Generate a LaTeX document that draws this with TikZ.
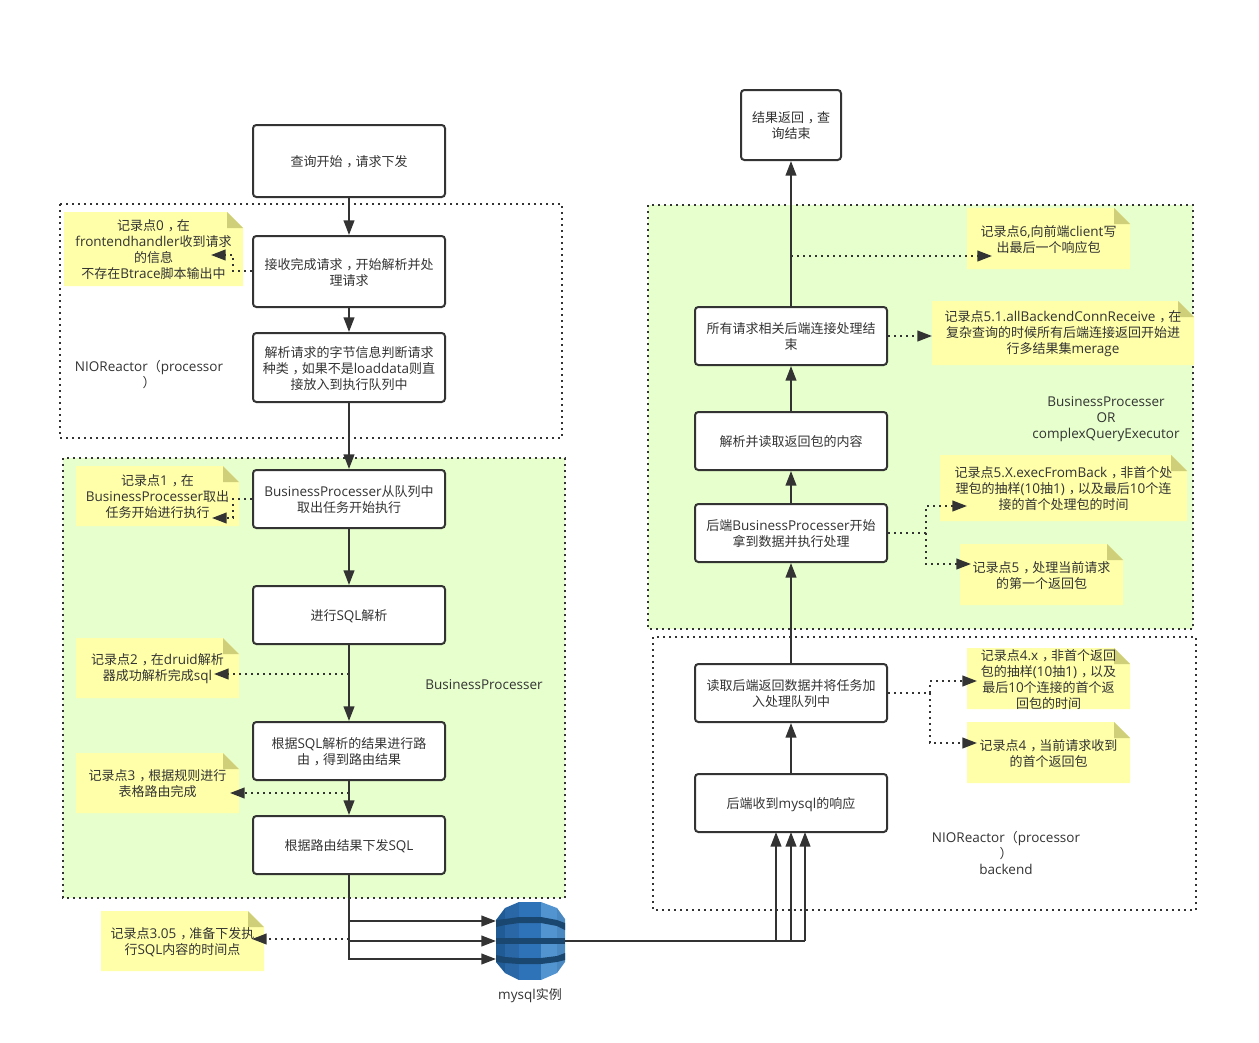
\documentclass[tikz,border=0pt]{standalone}
\usepackage{fontspec}
\setmainfont{Noto Sans CJK SC}
\newfontfamily\latfont[Scale=1.04]{Open Sans}
\usetikzlibrary{arrows.meta}
\XeTeXinterchartokenstate=1
\newXeTeXintercharclass\latclass
\newXeTeXintercharclass\commaclass
\newcount\chcnt
\chcnt=33
\loop\ifnum\chcnt<127
  \XeTeXcharclass\chcnt=\latclass
  \advance\chcnt by 1
\repeat
\XeTeXcharclass`，=\commaclass
\XeTeXinterchartoks 0 \latclass={\begingroup\latfont}
\XeTeXinterchartoks 4095 \latclass={\begingroup\latfont}
\XeTeXinterchartoks \latclass 0={\endgroup}
\XeTeXinterchartoks \latclass 4095={\endgroup}
\XeTeXinterchartoks 0 \commaclass={\kern.3em}
\XeTeXinterchartoks \commaclass 0={\kern-.3em}
\XeTeXinterchartoks \latclass \commaclass={\endgroup\kern.3em}
\XeTeXinterchartoks \commaclass \latclass={\kern-.3em\begingroup\latfont}
\definecolor{ink}{HTML}{333333}
\definecolor{groupgreen}{HTML}{E6FFCC}
\definecolor{noteyellow}{HTML}{FFFFAA}
\definecolor{notefold}{HTML}{CFCF7A}
\definecolor{bandblue}{HTML}{1A476F}
\definecolor{dbA}{HTML}{205B96}
\definecolor{dbB}{HTML}{2A67A6}
\definecolor{dbC}{HTML}{2E73B8}
\definecolor{dbD}{HTML}{5294CF}
\definecolor{dbE}{HTML}{4A88C2}
\tikzset{
  flowbox/.style={draw=ink,fill=white,line width=1.5pt,rounded corners=2.5pt,align=center,text=ink,inner sep=0pt,font=\fontsize{9.75}{12}\selectfont},
  label/.style={align=center,text=ink,inner sep=0pt,font=\fontsize{9.75}{12}\selectfont},
  grp/.style={draw=ink,line width=1.5pt,dash pattern=on 1.5pt off 3pt},
  solidarrow/.style={draw=ink,line width=1.5pt,-{Triangle[length=11pt,width=8pt]}},
  dotarrow/.style={draw=ink,line width=1.5pt,dash pattern=on 1.5pt off 3pt,-{Triangle[length=11pt,width=8pt]}},
  plainline/.style={draw=ink,line width=1.5pt},
}
\newcommand{\stickynote}[6]{%
  \fill[noteyellow] (#2,#3) -- ({#4-16},#3) -- (#4,{#3+16}) -- (#4,#5) -- (#2,#5) -- cycle;
  \fill[notefold] ({#4-16},#3) -- (#4,{#3+16}) -- ({#4-16},{#3+16}) -- cycle;
  \node[label] (#1) at ({(#2+#4)/2},{(#3+#5)/2+1}) {#6};
}
\newcommand{\flowat}[6]{%
  \node[flowbox,minimum width={(#4-#2)*0.75pt},minimum height={(#5-#3)*0.75pt},text depth=-0.75pt] (#1) at ({(#2+#4)/2},{(#3+#5)/2}) {#6};
}
\begin{document}
\begin{tikzpicture}[x=0.75pt,y=-0.75pt]
\useasboundingbox (0,0) rectangle (1259,1042);
% groups
\draw[grp] (60,204) rectangle (562,438);
\draw[grp,fill=groupgreen] (63,458) rectangle (565,898);
\draw[grp,fill=groupgreen] (648,205) rectangle (1193,629);
\draw[grp] (653,637) rectangle (1196,910);
% notes
\stickynote{n0}{64}{212}{243}{286}{记录点0，在\\frontendhandler收到请求\\的信息\\不存在Btrace脚本输出中}
\stickynote{n1}{76}{466}{239}{526}{记录点1，在\\BusinessProcesser取出\\任务开始进行执行}
\stickynote{n2}{76}{638}{239}{698}{记录点2，在druid解析\\器成功解析完成sql}
\stickynote{n3}{76}{753}{239}{813}{记录点3，根据规则进行\\表格路由完成}
\stickynote{n305}{101}{911}{264}{971}{记录点3.05，准备下发执\\行SQL内容的时间点}
\stickynote{n6}{967}{208}{1130}{269}{记录点6,向前端client写\\出最后一个响应包}
\stickynote{n51}{932}{301}{1194}{365}{记录点5.1.allBackendConnReceive，在\\复杂查询的时候所有后端连接返回开始进\\行多结果集merage}
\stickynote{n5x}{940}{455}{1187}{521}{记录点5.X.execFromBack，非首个处\\理包的抽样(10抽1)，以及最后10个连\\接的首个处理包的时间}
\stickynote{n5}{960}{544}{1123}{605}{记录点5，处理当前请求\\的第一个返回包}
\stickynote{n4x}{967}{648}{1130}{709}{记录点4.x，非首个返回\\包的抽样(10抽1)，以及\\最后10个连接的首个返\\回包的时间}
\stickynote{n4}{967}{722}{1130}{783}{记录点4，当前请求收到\\的首个返回包}
% boxes
\flowat{start}{253}{125}{445}{197}{查询开始，请求下发}
\flowat{recv}{253}{236}{445}{307}{接收完成请求，开始解析并处\\理请求}
\flowat{parse}{253}{333}{445}{402}{解析请求的字节信息判断请求\\种类，如果不是loaddata则直\\接放入到执行队列中}
\flowat{bp}{253}{470}{445}{528}{BusinessProcesser从队列中\\取出任务开始执行}
\flowat{sql}{253}{586}{445}{644}{进行SQL解析}
\flowat{route}{253}{722}{445}{780}{根据SQL解析的结果进行路\\由，得到路由结果}
\flowat{send}{253}{816}{445}{874}{根据路由结果下发SQL}
\flowat{result}{741}{90}{841}{160}{结果返回，查\\询结束}
\flowat{allend}{695}{307}{887}{365}{所有请求相关后端连接处理结\\束}
\flowat{readpk}{695}{412}{887}{470}{解析并读取返回包的内容}
\flowat{backbp}{695}{504}{887}{562}{后端BusinessProcesser开始\\拿到数据并执行处理}
\flowat{readbk}{695}{664}{887}{722}{读取后端返回数据并将任务加\\入处理队列中}
\flowat{recvdb}{695}{774}{887}{832}{后端收到mysql的响应}
% free labels
\node[label] (lnio) at (149,375) {NIOReactor（processor\\）};
\node[label] (lbp) at (484,685) {BusinessProcesser};
\node[label] (lor) at (1106,419) {BusinessProcesser\\OR\\complexQueryExecutor};
\node[label] (lnb) at (1006,853) {NIOReactor（processor\\）\\backend};
\node[label] (ldb) at (530,996) {mysql实例};
% database icon
\fill[dbA] (496,920) -- (505,908) -- (505,973) -- (496,962) -- cycle;
\fill[dbB] (505,908) -- (519,902) -- (519,980) -- (505,973) -- cycle;
\fill[dbC] (519,902) -- (541,902) -- (541,980) -- (519,980) -- cycle;
\fill[dbD] (541,902) -- (557,908) -- (557,973) -- (541,980) -- cycle;
\fill[dbE] (557,908) -- (565,919) -- (565,962) -- (557,973) -- cycle;
\fill[bandblue] (496,920) -- (505,919) -- (519,917) -- (541,917) -- (557,920) -- (565,923) -- (565,930) -- (557,926) -- (541,923) -- (519,923) -- (505,925) -- (496,927) -- cycle;
\fill[bandblue] (496,938) -- (565,938) -- (565,944) -- (496,944) -- cycle;
\fill[bandblue] (496,955) -- (505,957) -- (519,958) -- (541,958) -- (557,956) -- (565,953) -- (565,960) -- (557,962) -- (541,964) -- (519,964) -- (505,963) -- (496,962) -- cycle;
\coordinate (db) at (530,941);
% junction coordinates
\coordinate (a0) at (233,271);   \coordinate (a0b) at (233,255);  \coordinate (t0) at (211,255);
\coordinate (a1) at (233,499);   \coordinate (a1b) at (233,518);  \coordinate (t1) at (212,518);
\coordinate (s2) at (349,674);   \coordinate (t2) at (214,674);
\coordinate (s3) at (349,793);   \coordinate (t3) at (230,793);
\coordinate (s305) at (349,939); \coordinate (t305) at (252,939);
\coordinate (s6) at (791,256);   \coordinate (t6) at (992,256);
\coordinate (t51) at (932,336);
\coordinate (j5) at (926,533);   \coordinate (t5x) at (967,506);  \coordinate (t5) at (971,564);
\coordinate (j4) at (930,693);   \coordinate (t4x) at (977,681);  \coordinate (t4) at (977,743);
\coordinate (dbl1) at (496,921); \coordinate (dbl2) at (496,941); \coordinate (dbl3) at (496,959);
\coordinate (dbr) at (565,941);
\coordinate (b1) at (776,941);   \coordinate (b2) at (791,941);   \coordinate (b3) at (805,941);
\coordinate (u1) at (776,832);   \coordinate (u2) at (791,832);   \coordinate (u3) at (805,832);
% solid connectors
\draw[solidarrow] (start) -- (recv);
\draw[solidarrow] (recv) -- (parse);
\draw[solidarrow] (parse) -- (bp);
\draw[solidarrow] (bp) -- (sql);
\draw[solidarrow] (sql) -- (route);
\draw[solidarrow] (route) -- (send);
\draw[solidarrow] (send.south) |- (dbl1);
\draw[solidarrow] (send.south) |- (dbl2);
\draw[solidarrow] (send.south) |- (dbl3);
\draw[plainline] (dbr) -- (b3);
\draw[solidarrow] (b1) -- (u1);
\draw[solidarrow] (b2) -- (u2);
\draw[solidarrow] (b3) -- (u3);
\draw[solidarrow] (recvdb) -- (readbk);
\draw[solidarrow] (readbk) -- (backbp);
\draw[solidarrow] (backbp) -- (readpk);
\draw[solidarrow] (readpk) -- (allend);
\draw[solidarrow] (allend) -- (result);
% dotted connectors
\draw[dotarrow] (a0 -| recv.west) -- (a0) -- (a0b) -- (t0);
\draw[dotarrow] (a1 -| bp.west) -- (a1) -- (a1b) -- (t1);
\draw[dotarrow] (s2) -- (t2);
\draw[dotarrow] (s3) -- (t3);
\draw[dotarrow] (s305) -- (t305);
\draw[dotarrow] (s6) -- (t6);
\draw[dotarrow] (allend.east) -- (t51);
\draw[dotarrow] (backbp.east) -- (j5) |- (t5x);
\draw[dotarrow] (j5) |- (t5);
\draw[dotarrow] (readbk.east) -- (j4) |- (t4x);
\draw[dotarrow] (j4) |- (t4);
\end{tikzpicture}
\end{document}
